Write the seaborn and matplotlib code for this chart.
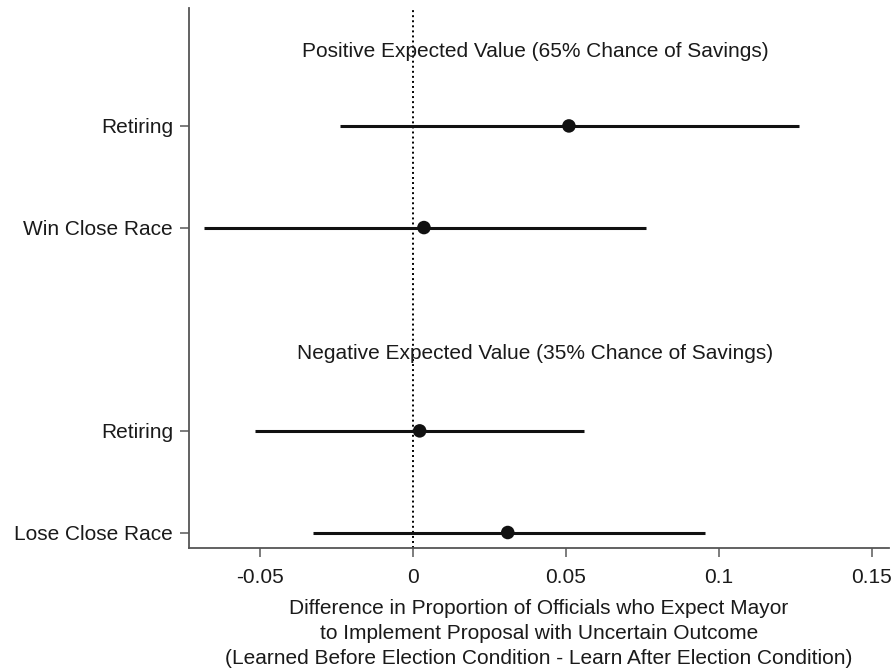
import numpy as np
import pandas as pd
import matplotlib
matplotlib.use("Agg")
import matplotlib.pyplot as plt
import seaborn as sns

# ---------------------------------------------------------------------------
# Data
# ---------------------------------------------------------------------------
labels = ["Retiring", "Win Close Race", "Retiring", "Lose Close Race"]
positions = [5, 4, 2, 1]
estimates = [0.051, 0.0036, 0.0022, 0.031]
ci_low = [-0.0239, -0.0683, -0.0516, -0.0328]
ci_high = [0.1263, 0.0761, 0.0560, 0.0954]

group_titles = ["Positive Expected Value (65% Chance of Savings)",
                "Negative Expected Value (35% Chance of Savings)"]
group_title_y = [5.73, 2.76]

x_ticks = [-0.05, 0, 0.05, 0.1, 0.15]
x_tick_labels = ["-0.05", "0", "0.05", "0.1", "0.15"]

df = pd.DataFrame({"label": labels, "pos": positions, "est": estimates,
                   "lo": ci_low, "hi": ci_high})

# ---------------------------------------------------------------------------
# Plot
# ---------------------------------------------------------------------------
sns.set_style("ticks")
plt.rcParams["font.family"] = ["Liberation Sans", "DejaVu Sans"]

fig = plt.figure(figsize=(8.96, 6.68), dpi=100)
ax = fig.add_axes([0.211, 0.180, 0.781, 0.808])

ax.axvline(0, color="black", linestyle=(0, (1, 1.6)), linewidth=1.4, zorder=1)
ax.hlines(df["pos"], df["lo"], df["hi"], color="#111111", linewidth=2.2, zorder=2)
sns.scatterplot(data=df, x="est", y="pos", color="#111111", s=95,
                edgecolor="none", ax=ax, zorder=3, legend=False)

for title, ty in zip(group_titles, group_title_y):
    ax.text(0.04, ty, title, ha="center", va="center", fontsize=15,
            color="#1a1a1a")

ax.set_xlim(-0.0732, 0.1556)
ax.set_ylim(0.85, 6.16)
ax.set_yticks(positions)
ax.set_yticklabels(labels)
ax.set_xticks(x_ticks)
ax.set_xticklabels(x_tick_labels)
ax.tick_params(axis="both", labelsize=15, labelcolor="#1a1a1a", color="#666666",
               length=6.5, width=1.2)
ax.tick_params(axis="x", pad=8)
ax.tick_params(axis="y", pad=5)
ax.set_ylabel("")
ax.set_xlabel("Difference in Proportion of Officials who Expect Mayor\n"
              "to Implement Proposal with Uncertain Outcome\n"
              "(Learned Before Election Condition - Learn After Election Condition)",
              fontsize=15, color="#1a1a1a", labelpad=9, linespacing=1.38)

sns.despine(ax=ax)
for side in ["left", "bottom"]:
    ax.spines[side].set_color("#555555")
    ax.spines[side].set_linewidth(1.3)

fig.savefig("out.png", dpi=100, facecolor="white")
plt.close(fig)
